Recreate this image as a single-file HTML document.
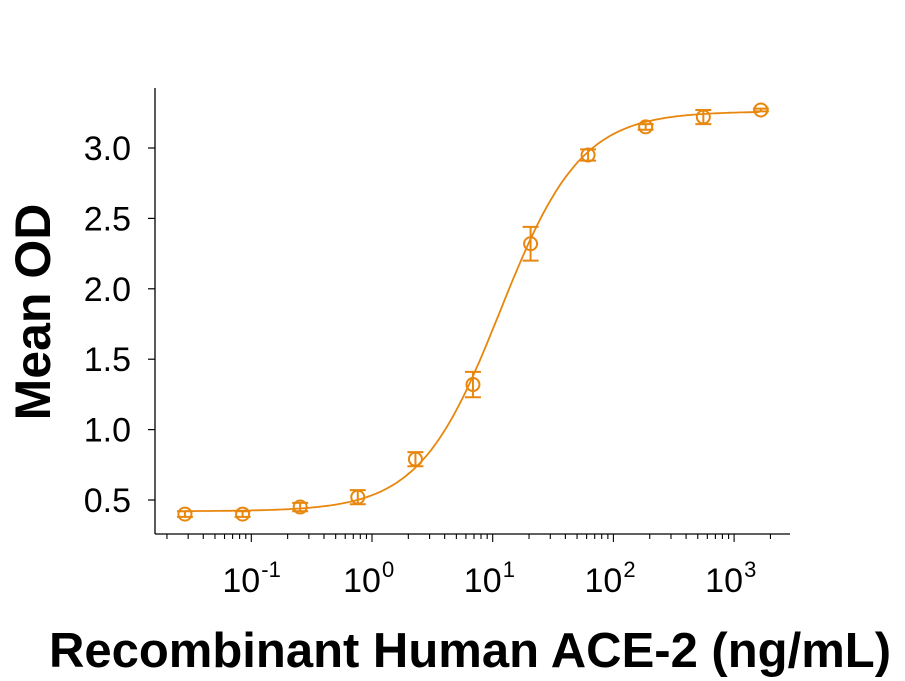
<!DOCTYPE html>
<html><head><meta charset="utf-8"><style>
body{margin:0;background:#fff;}
svg{display:block;font-family:"Liberation Sans",Arial,sans-serif;}
</style></head><body>
<svg id="chart" width="905" height="681"></svg>
<script>
const concentrations=[0.0282,0.0847,0.254,0.762,2.29,6.86,20.6,61.7,185,556,1667];
const meanOD=[0.40,0.40,0.45,0.52,0.79,1.32,2.32,2.95,3.15,3.22,3.27];
const errorOD=[0.02,0.02,0.03,0.05,0.05,0.09,0.12,0.04,0.02,0.05,0.01];
const yTicks=[0.5,1.0,1.5,2.0,2.5,3.0];
const xDecades=[-1,0,1,2,3];
const fitParams=[0.42,3.26,11.5,1.3]; // bottom, top, EC50, hill
const NS="http://www.w3.org/2000/svg";
const svg=document.getElementById('chart');
const C='#E8870E';
function X(v){return 372+Math.log10(v)*120.7;}
function Y(v){return 500-(v-0.5)*140.8;}
function el(t,a,p){const e=document.createElementNS(NS,t);for(const k in a)e.setAttribute(k,a[k]);(p||svg).appendChild(e);return e;}
const ya=el('line',{x1:155,y1:88,x2:155,y2:534,stroke:'#000','stroke-width':1.3});


const xa=el('line',{x1:155,y1:534,x2:790,y2:534,stroke:'#000','stroke-width':1.3});


yTicks.forEach(v=>{
  el('line',{x1:148,y1:Y(v),x2:155,y2:Y(v),stroke:'#000','stroke-width':1.2});
  const t=el('text',{x:131,y:Y(v)+12,'font-size':34,'text-anchor':'end',fill:'#000'});
  t.textContent=v.toFixed(1);
  
  
});
for(let d=-2;d<=3;d++){
  for(let m=1;m<10;m++){
    const x=372+(d+Math.log10(m))*120.7;
    if(x<155||x>790)continue;
    el('line',{x1:x,y1:534,x2:x,y2:m==1?542:539,stroke:'#000','stroke-width':1.1});
  }
}
xDecades.forEach(d=>{
  const x=372+d*120.7;
  const t=el('text',{x:x-10,y:592,'font-size':34,'text-anchor':'middle',fill:'#000'});
  t.textContent='10';
  
  
  const s=el('text',{x:x+10,y:577,'font-size':22,'text-anchor':'start',fill:'#000'});
  s.textContent=String(d);
  
  
});
const [b,tp,ec,h]=fitParams;
let d='';
for(let lx=Math.log10(concentrations[0]);lx<=Math.log10(concentrations[concentrations.length-1])+0.001;lx+=0.02){
  const c=Math.pow(10,lx);const y=b+(tp-b)/(1+Math.pow(ec/c,h));
  d+=(d?'L':'M')+X(c).toFixed(1)+','+Y(y).toFixed(1);
}
const cv=el('path',{d:d,fill:'none',stroke:C,'stroke-width':1.8});


concentrations.forEach((c,i)=>{
  const g=el('g',{});
  
  
  const x=X(c),y=Y(meanOD[i]),y1=Y(meanOD[i]+errorOD[i]),y2=Y(meanOD[i]-errorOD[i]);
  el('line',{x1:x,y1:y1,x2:x,y2:y2,stroke:C,'stroke-width':2},g);
  el('line',{x1:x-8,y1:y1,x2:x+8,y2:y1,stroke:C,'stroke-width':2},g);
  el('line',{x1:x-8,y1:y2,x2:x+8,y2:y2,stroke:C,'stroke-width':2},g);
  el('circle',{cx:x,cy:y,r:6.5,fill:'none',stroke:C,'stroke-width':2},g);
});
const yt=el('text',{x:0,y:0,'font-size':50,'font-weight':'bold','text-anchor':'middle',transform:'translate(50,312) rotate(-90)'});
yt.textContent='Mean OD';


const xt=el('text',{x:470,y:667,'font-size':49,'font-weight':'bold','text-anchor':'middle'});
xt.textContent='Recombinant Human ACE-2 (ng/mL)';


</script>
</body></html>
